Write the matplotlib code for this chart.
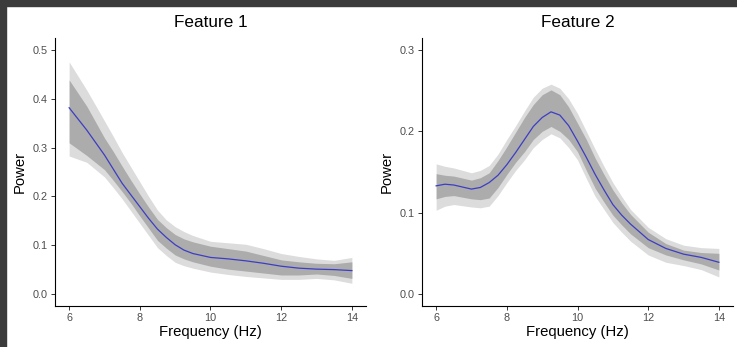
import matplotlib
matplotlib.use('Agg')
import matplotlib.pyplot as plt
from matplotlib.patches import Rectangle

plt.rcParams['font.family'] = ['Liberation Sans', 'DejaVu Sans']

# Feature 1 (frequency grid and smoothed power with two bands)
freq1 = [6, 6.5, 7, 7.25, 7.5, 7.75, 8, 8.25, 8.5, 8.75, 9, 9.25, 9.5, 10, 10.5, 11, 11.5,
         12, 12.5, 13, 13.5, 14]
line1 = [0.382, 0.336, 0.285, 0.256, 0.227, 0.203, 0.179, 0.155, 0.133, 0.116, 0.101, 0.090,
         0.083, 0.075, 0.072, 0.068, 0.063, 0.057, 0.053, 0.051, 0.050, 0.048]
outer_hi1 = [0.476, 0.418, 0.355, 0.323, 0.290, 0.260, 0.230, 0.200, 0.172, 0.152, 0.138,
             0.128, 0.120, 0.108, 0.105, 0.102, 0.093, 0.083, 0.077, 0.072, 0.069, 0.075]
inner_hi1 = [0.439, 0.385, 0.320, 0.292, 0.262, 0.233, 0.205, 0.178, 0.153, 0.136, 0.122,
             0.113, 0.107, 0.098, 0.093, 0.088, 0.079, 0.070, 0.066, 0.063, 0.062, 0.066]
inner_lo1 = [0.310, 0.284, 0.255, 0.233, 0.210, 0.186, 0.160, 0.135, 0.110, 0.094, 0.080,
             0.072, 0.066, 0.057, 0.051, 0.047, 0.043, 0.039, 0.039, 0.041, 0.038, 0.032]
outer_lo1 = [0.283, 0.270, 0.240, 0.218, 0.195, 0.170, 0.145, 0.120, 0.095, 0.079, 0.065,
             0.058, 0.053, 0.045, 0.040, 0.036, 0.033, 0.030, 0.030, 0.032, 0.029, 0.022]

# Feature 2
freq2 = [6, 6.25, 6.5, 7, 7.25, 7.5, 7.75, 8, 8.25, 8.5, 8.75, 9, 9.25, 9.5, 9.75, 10, 10.25,
         10.5, 10.75, 11, 11.25, 11.5, 12, 12.5, 13, 13.5, 14]
line2 = [0.133, 0.135, 0.134, 0.129, 0.131, 0.137, 0.146, 0.159, 0.174, 0.190, 0.206, 0.217,
         0.224, 0.220, 0.207, 0.188, 0.168, 0.147, 0.128, 0.110, 0.097, 0.086, 0.067, 0.056,
         0.049, 0.045, 0.039]
outer_hi2 = [0.160, 0.157, 0.155, 0.149, 0.152, 0.158, 0.172, 0.190, 0.207, 0.225, 0.242,
             0.253, 0.258, 0.253, 0.240, 0.222, 0.200, 0.178, 0.157, 0.137, 0.120, 0.104,
             0.082, 0.068, 0.060, 0.057, 0.056]
inner_hi2 = [0.148, 0.146, 0.145, 0.140, 0.143, 0.149, 0.164, 0.181, 0.199, 0.217, 0.233,
             0.245, 0.251, 0.245, 0.230, 0.210, 0.190, 0.167, 0.147, 0.128, 0.112, 0.098,
             0.076, 0.062, 0.054, 0.051, 0.050]
inner_lo2 = [0.117, 0.120, 0.121, 0.117, 0.116, 0.118, 0.131, 0.147, 0.162, 0.175, 0.190,
             0.200, 0.206, 0.200, 0.190, 0.175, 0.152, 0.130, 0.113, 0.097, 0.085, 0.074,
             0.057, 0.048, 0.042, 0.037, 0.0295]
outer_lo2 = [0.103, 0.108, 0.110, 0.107, 0.106, 0.108, 0.121, 0.137, 0.152, 0.165, 0.180,
             0.190, 0.197, 0.192, 0.180, 0.165, 0.142, 0.120, 0.104, 0.088, 0.076, 0.065,
             0.048, 0.039, 0.035, 0.030, 0.021]

titles = ['Feature 1', 'Feature 2']
xticks = [6, 8, 10, 12, 14]
yticks1 = [0.0, 0.1, 0.2, 0.3, 0.4, 0.5]
yticks2 = [0.0, 0.1, 0.2, 0.3]

W, H = 737, 347
fig = plt.figure(figsize=(W / 100, H / 100), dpi=100)
fig.patch.set_facecolor('white')

# dark frame on top and left edge of the screenshot
fig.patches.append(Rectangle((0, 1 - 6 / H), 1, 6 / H, transform=fig.transFigure,
                             color='#3b3b3b', zorder=0))
fig.patches.append(Rectangle((0, 0), 6 / W, 1, transform=fig.transFigure,
                             color='#3b3b3b', zorder=0))

bottom = 1 - 305.7 / H
height = (305.7 - 38) / H
ax1 = fig.add_axes([55 / W, bottom, 311 / W, height])
ax2 = fig.add_axes([422 / W, bottom, 311 / W, height])

panels = [
    (ax1, freq1, line1, outer_hi1, inner_hi1, inner_lo1, outer_lo1, yticks1, (-0.024, 0.525)),
    (ax2, freq2, line2, outer_hi2, inner_hi2, inner_lo2, outer_lo2, yticks2, (-0.0144, 0.3148)),
]

for i, (ax, f, ln, ohi, ihi, ilo, olo, yt, ylim) in enumerate(panels):
    ax.fill_between(f, olo, ohi, color='#dcdcdc', linewidth=0)
    ax.fill_between(f, ilo, ihi, color='#acacac', linewidth=0)
    ax.plot(f, ln, color='#3d3dc4', linewidth=0.9)
    ax.set_xlim(5.6, 14.4)
    ax.set_ylim(*ylim)
    ax.set_xticks(xticks)
    ax.set_yticks(yt)
    ax.set_yticklabels(['%.1f' % v for v in yt])
    for s in ['top', 'right']:
        ax.spines[s].set_visible(False)
    for s in ['left', 'bottom']:
        ax.spines[s].set_linewidth(0.8)
        ax.spines[s].set_color('black')
    ax.tick_params(direction='out', length=3, width=0.7, colors='#333333',
                   labelcolor='#4d4d4d', labelsize=7.8, pad=2.5)
    ax.set_title(titles[i], fontsize=12.3, pad=8)
    ax.set_xlabel('Frequency (Hz)', fontsize=10.7, labelpad=1)
    ax.set_ylabel('Power', fontsize=10.7, labelpad=4)

fig.savefig('out.png', dpi=100)
